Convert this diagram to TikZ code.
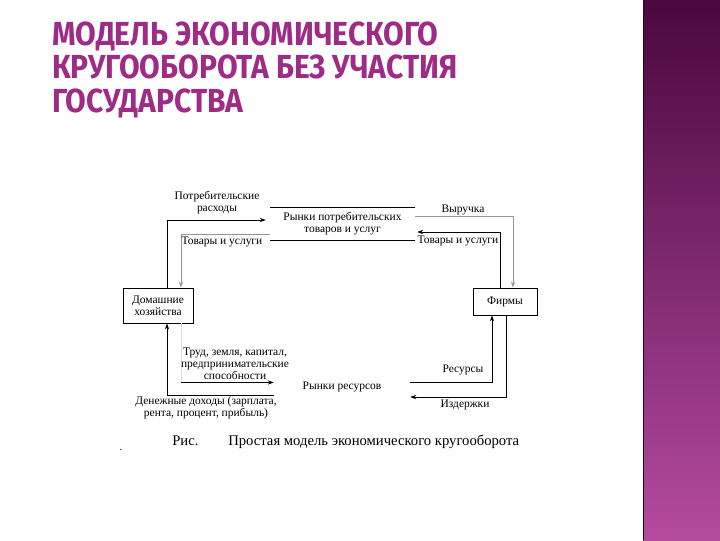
\documentclass[tikz,border=0pt]{standalone}
\usepackage{fontspec}
\setmainfont{Liberation Serif}
\newfontfamily\titlefont{Fira Sans}
\usetikzlibrary{arrows.meta, calc}

\definecolor{titlepink}{RGB}{158,44,134}
\definecolor{paneltop}{RGB}{74,8,62}
\definecolor{panelbot}{RGB}{180,74,160}
\definecolor{flowgray}{RGB}{150,150,150}

\tikzset{
  agent/.style={draw, line width=0.7pt, align=center,
    font=\fontsize{8.6}{9}\selectfont, inner sep=1pt},
  lbl/.style={align=center, font=\fontsize{8.6}{9}\selectfont, inner sep=0pt},
  flow/.style={->, line width=0.6pt},
  softflow/.style={flow, draw=flowgray},
  headline/.style={anchor=base west, inner sep=0pt, text=titlepink,
    font=\titlefont\bfseries\fontsize{25}{30}\selectfont},
}

\begin{document}
\begin{tikzpicture}[x=0.75pt, y=-0.75pt, >={Stealth[length=4.5pt,width=3.2pt]}]
  \useasboundingbox (0,0) rectangle (720,540);

  % Side panel
  \shade[top color=paneltop, bottom color=panelbot] (643,0) rectangle (720,540);
  \draw[line width=1.4pt, paneltop!60!black] (643.5,0) -- (643.5,540);

  % Title
  \node[headline] (title1) at (52,45) {\scalebox{0.9}[1]{МОДЕЛЬ ЭКОНОМИЧЕСКОГО}};
  \node[headline] (title2) at (52,78) {\scalebox{0.9}[1]{КРУГООБОРОТА БЕЗ УЧАСТИЯ}};
  \node[headline] (title3) at (52,112) {\scalebox{0.9}[1]{ГОСУДАРСТВА}};

  % Agents and markets
  \node[agent, minimum width=52.5pt, minimum height=26.25pt] (hh) at (158,305.5)
    {Домашние\\хозяйства};
  \node[agent, minimum width=48pt, minimum height=20.25pt] (firms) at (505,301.5)
    {Фирмы};
  \node[lbl, minimum width=108.75pt, minimum height=24pt] (goodsmkt) at (342.5,224)
    {Рынки потребительских\\товаров и услуг};
  \node[lbl, minimum width=102pt, minimum height=22.5pt] (resmkt) at (342,387)
    {Рынки ресурсов};
  \draw[line width=0.6pt] (goodsmkt.north west) -- (goodsmkt.north east);
  \draw[line width=0.6pt] (goodsmkt.south west) -- (goodsmkt.south east);

  % Upper loop
  \draw[flow] ($(hh.north)+(9,0)$) |- ($(goodsmkt.west)+(-4,-4)$);
  \draw[softflow] ($(goodsmkt.south west)+(0,-6)$) -| ($(hh.north)+(23,0)$);
  \draw[softflow] ($(goodsmkt.east)+(0,-8)$) -| ($(firms.north)+(8,0)$);
  \draw[flow] ($(firms.north)+(-5,0)$) |- ($(goodsmkt.east)+(2,8)$);

  % Lower loop
  \draw[flow] ($(resmkt.east)+(0,-5)$) -| ($(firms.south)+(-13,0)$);
  \draw[flow] ($(firms.south)+(1,0)$) |- ($(resmkt.east)+(0,10)$);
  \coordinate (factcorner) at ($(hh.south)+(23,59)$);
  \draw[line width=0.6pt, black!15] ($(hh.south)+(23,0)$) -- (factcorner);
  \draw[flow] (factcorner) -- (factcorner -| resmkt.west);
  \draw[flow] ($(resmkt.west)+(0,8)$) -| ($(hh.south)+(9,0)$);

  % Flow labels
  \node[lbl] (spendlbl) at (217,203) {Потребительские\\расходы};
  \node[lbl] (goodslbl) at (222,242) {Товары и услуги};
  \node[lbl] (revlbl) at (463,210) {Выручка};
  \node[lbl] (goodsrlbl) at (458,241) {Товары и услуги};
  \node[lbl] (factlbl) at (235,364) {Труд, земля, капитал,\\предпринимательские\\способности};
  \node[lbl] (incomelbl) at (206,408) {Денежные доходы (зарплата,\\рента, процент, прибыль)};
  \node[lbl] (reslbl) at (463,370) {Ресурсы};
  \node[lbl] (costlbl) at (465,405) {Издержки};

  % Caption
  \node[anchor=base west, inner sep=0pt, font=\fontsize{11}{12}\selectfont] (figno) at (172,445) {Рис.};
  \node[anchor=base west, inner sep=0pt, font=\fontsize{11}{12}\selectfont] (figtext) at (228,445)
    {Простая модель экономического кругооборота};
  \node[inner sep=0pt, font=\fontsize{8}{9}\selectfont] (dot) at (121,450) {.};
\end{tikzpicture}
\end{document}
